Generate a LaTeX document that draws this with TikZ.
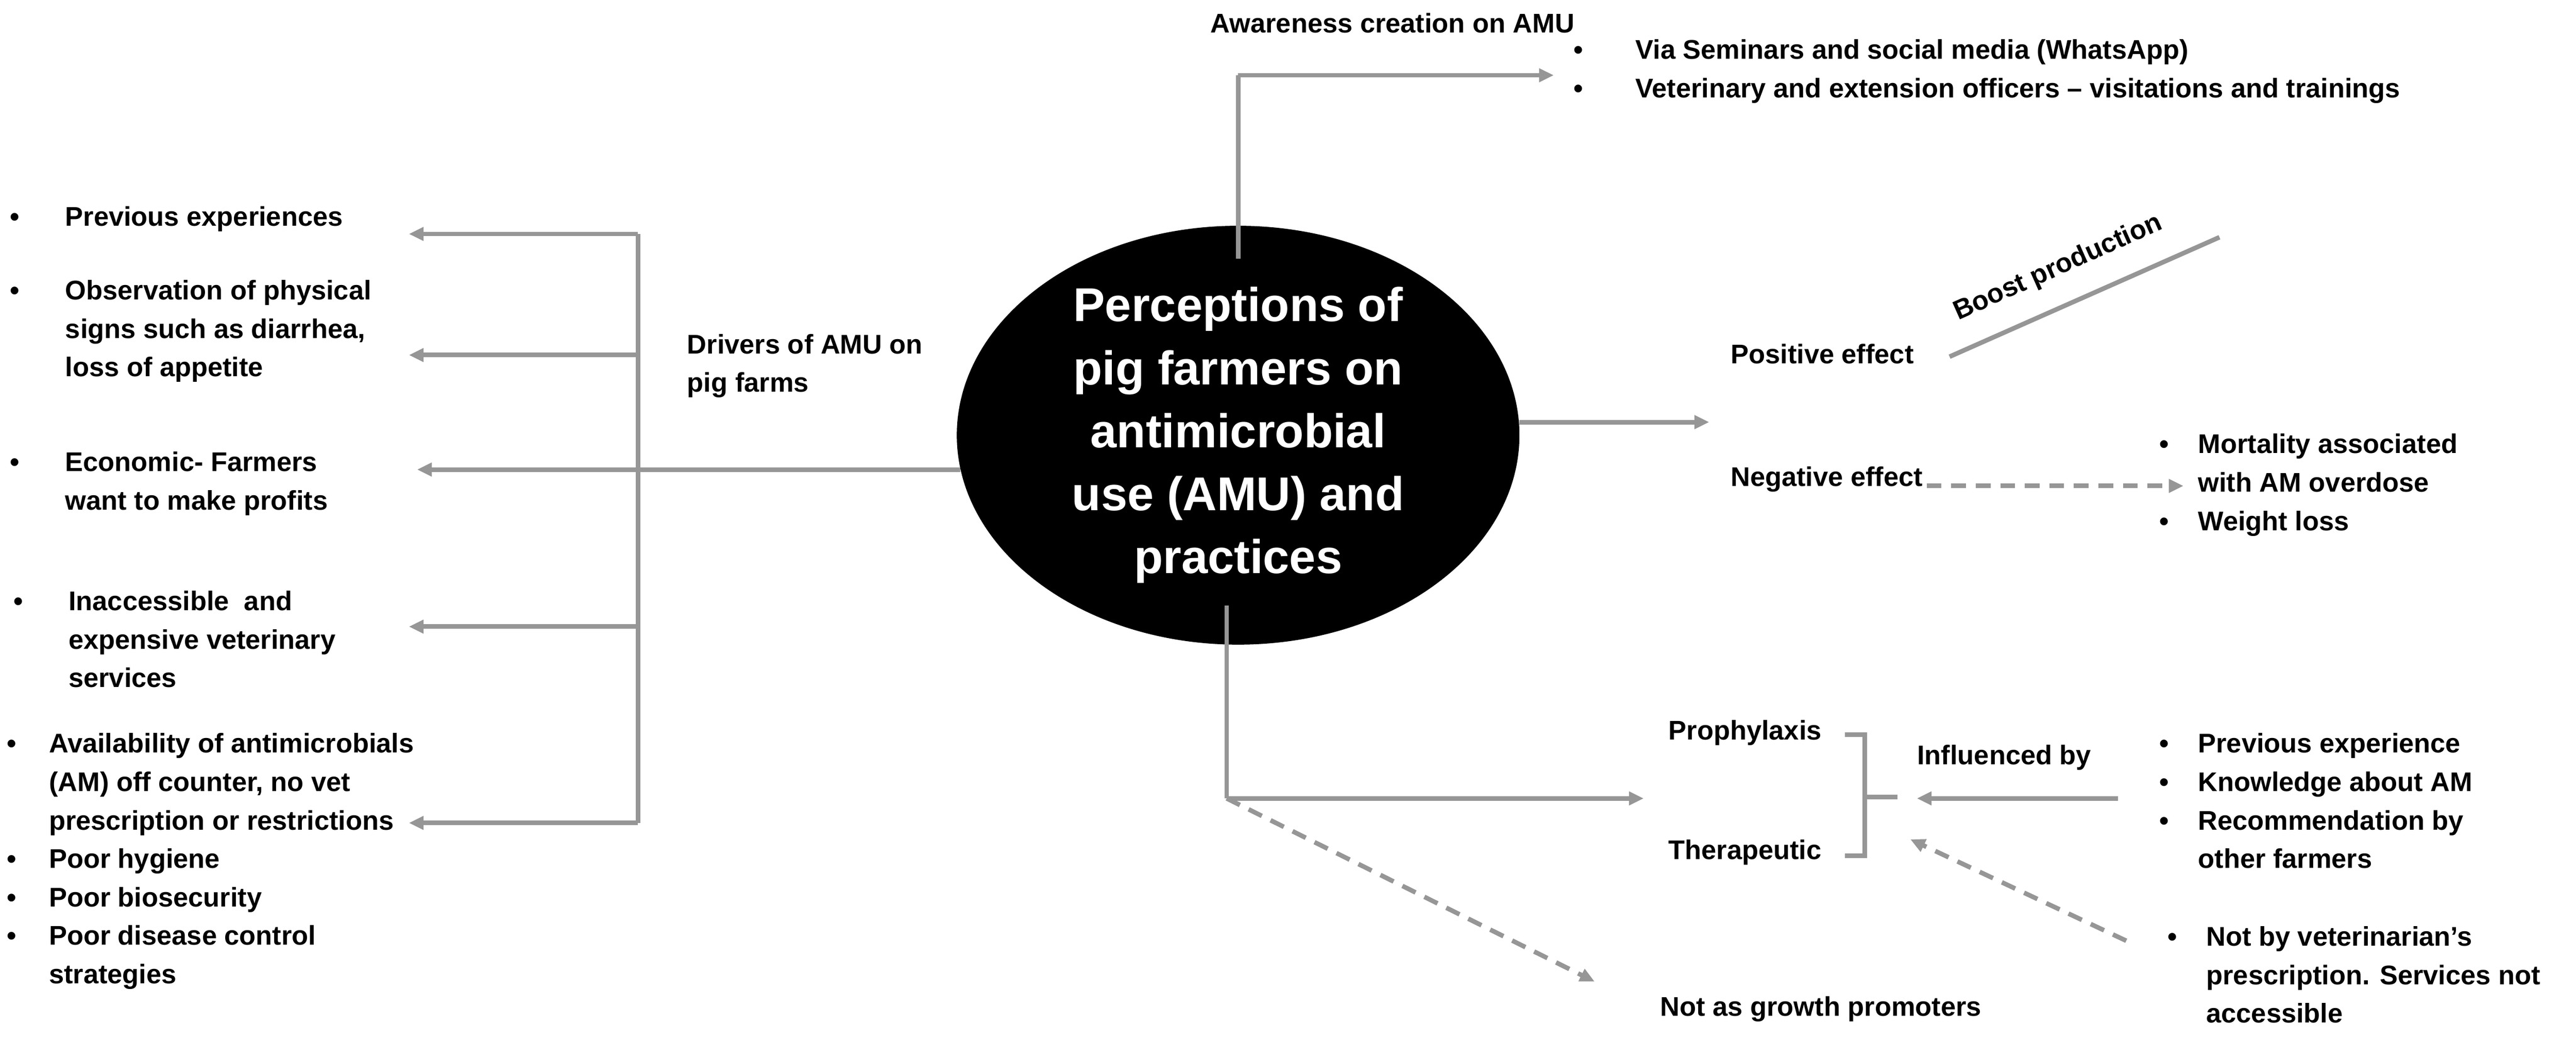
\documentclass[tikz,border=0pt]{standalone}
\usepackage{fontspec}
\setmainfont{Liberation Sans}
\usetikzlibrary{shapes.geometric,arrows.meta}
\definecolor{ln}{RGB}{150,150,150}
\begin{document}
\begin{tikzpicture}[x=1pt,y=-1pt,
 t/.style={anchor=north west,align=left,font=\fontsize{16.5}{23.5}\selectfont\bfseries,inner sep=0},
 l/.style={draw=ln,line width=2.8pt},
 a/.style={l,-{Triangle[length=9pt,width=8pt]}},
 d/.style={a,dash pattern=on 9pt off 6pt}]
\useasboundingbox (0,0) rectangle (1575,646);
\node[ellipse,fill=black,minimum width=344pt,minimum height=220pt,inner sep=0,text=white,align=center,font=\fontsize{29}{38.5}\selectfont\bfseries] (c) at (757,266) {Perceptions of\\pig farmers on\\antimicrobial\\use (AMU) and\\practices};
% top
\coordinate (t1) at (757,46);
\coordinate (t2) at (950,46);
\draw[l] (757,158) -- (t1);
\draw[a] (t1) -- (t2);
\node[t] (aw) at (740,8) {Awareness creation on AMU};
\node[t] (aw1) at (962,24) {\textbullet\hspace{32pt}Via Seminars and social media (WhatsApp)\\\textbullet\hspace{32pt}Veterinary and extension officers -- visitations and trainings};
% left
\coordinate (lt) at (390,143);
\coordinate (lb) at (390,503);
\draw[a] (587,287) -- (255,287);
\draw[l] (lt) -- (lb);
\coordinate (e1) at (250,143);
\coordinate (e2) at (250,217);
\coordinate (e3) at (250,383);
\coordinate (e4) at (250,503);
\draw[a] (lt) -- (e1);
\draw[a] (390,217) -- (e2);
\draw[a] (390,383) -- (e3);
\draw[a] (lb) -- (e4);
\node[t] (dr) at (420,204) {Drivers of AMU on\\pig farms};
\node[t] (b1) at (6,126) {\textbullet\hspace{28pt}Previous experiences};
\node[t] (b2) at (6,171) {\textbullet\hspace{28pt}Observation of physical\\\phantom{\textbullet}\hspace{28pt}signs such as diarrhea,\\\phantom{\textbullet}\hspace{28pt}loss of appetite};
\node[t] (b3) at (6,276) {\textbullet\hspace{28pt}Economic- Farmers\\\phantom{\textbullet}\hspace{28pt}want to make profits};
\node[t] (b4) at (8,361) {\textbullet\hspace{28pt}Inaccessible\ \ and\\\phantom{\textbullet}\hspace{28pt}expensive veterinary\\\phantom{\textbullet}\hspace{28pt}services};
\node[t] (b5) at (4,448) {\textbullet\hspace{20pt}Availability of antimicrobials\\\phantom{\textbullet}\hspace{20pt}(AM) off counter, no vet\\\phantom{\textbullet}\hspace{20pt}prescription or restrictions\\\textbullet\hspace{20pt}Poor hygiene\\\textbullet\hspace{20pt}Poor biosecurity\\\textbullet\hspace{20pt}Poor disease control\\\phantom{\textbullet}\hspace{20pt}strategies};
% right
\draw[a] (929,258) -- (1045,258);
\node[t] (pe) at (1058,210) {Positive effect};
\coordinate (bp1) at (1192,218);
\coordinate (bp2) at (1357,145);
\draw[l] (bp1) -- (bp2);
\node[font=\fontsize{16.5}{20}\selectfont\bfseries,rotate=24,anchor=south,inner sep=1pt] (bpt) at (1262,172) {Boost production};
\node[t] (ne) at (1058,285) {Negative effect};
\coordinate (n1) at (1178,297);
\coordinate (n2) at (1335,297);
\draw[d] (n1) -- (n2);
\node[t] (m) at (1320,265) {\textbullet\hspace{18pt}Mortality associated\\\phantom{\textbullet}\hspace{18pt}with AM overdose\\\textbullet\hspace{18pt}Weight loss};
% bottom
\coordinate (v1) at (750,370);
\coordinate (v2) at (750,488);
\draw[l] (v1) -- (v2);
\draw[a] (v2) -- (1005,488);
\draw[d] (v2) -- (975,600);
\node[t] (pr) at (1020,440) {Prophylaxis};
\node[t] (th) at (1020,513) {Therapeutic};
\draw[l] (1128,449) -- (1140,449) -- (1140,523) -- (1128,523);
\draw[l] (1140,487) -- (1160,487);
\node[t] (inf) at (1172,455) {Influenced by};
\draw[a] (1295,488) -- (1172,488);
\node[t] (pv) at (1320,448) {\textbullet\hspace{18pt}Previous experience\\\textbullet\hspace{18pt}Knowledge about AM\\\textbullet\hspace{18pt}Recommendation by\\\phantom{\textbullet}\hspace{18pt}other farmers};
\draw[d] (1300,575) -- (1168,513);
\node[t] (nv) at (1325,566) {\textbullet\hspace{18pt}Not by veterinarian's\\\phantom{\textbullet}\hspace{18pt}prescription. Services not\\\phantom{\textbullet}\hspace{18pt}accessible};
\node[t] (ng) at (1015,609) {Not as growth promoters};
\end{tikzpicture}
\end{document}
